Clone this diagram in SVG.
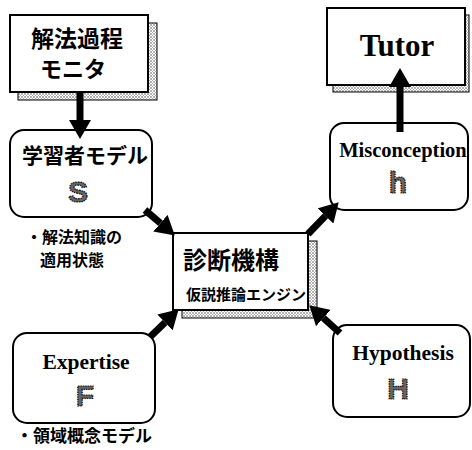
<svg xmlns="http://www.w3.org/2000/svg" width="472" height="450" viewBox="0 0 472 450">
<style>
.box{fill:#fff;stroke:#000;stroke-width:2}
.shadow{fill:url(#stip);stroke:#000;stroke-width:1}
.jp{font-family:"Noto Sans CJK JP","Noto Sans CJK SC",sans-serif;font-weight:bold;fill:#000}
.en{font-family:"Liberation Serif",serif;font-weight:bold;fill:#000;text-anchor:middle}
.sym{font-family:"Liberation Sans",sans-serif;font-weight:bold;fill:#666;stroke:#000;stroke-width:1.2;stroke-dasharray:1.4 1;text-anchor:middle}
.arrow{stroke:#000;stroke-width:7;fill:none;marker-end:url(#head)}
</style>
<defs>
<pattern id="stip" width="3" height="3" patternUnits="userSpaceOnUse">
<rect width="3" height="3" fill="#fff"/>
<circle cx="1" cy="1" r="0.8" fill="#555"/>
<circle cx="2.5" cy="2.5" r="0.5" fill="#888"/>
</pattern>
<marker id="head" markerUnits="userSpaceOnUse" markerWidth="20" markerHeight="22" refX="0" refY="11" orient="auto" viewBox="0 0 20 22">
<path d="M0,0 L19,11 L0,22 z" fill="#000"/>
</marker>
</defs>

<g id="monitor">
<rect class="shadow" x="18" y="23" width="139" height="77"/>
<rect class="box" x="10" y="15" width="138" height="77"/>
<text class="jp" x="77" y="47" font-size="23" text-anchor="middle">解法過程</text>
<text class="jp" x="73" y="77" font-size="22" text-anchor="middle">モニタ</text>
</g>

<g id="tutor">
<rect class="shadow" x="333" y="15" width="136" height="77"/>
<rect class="box" x="327" y="8" width="138" height="77"/>
<text class="en" x="397" y="56" font-size="31">Tutor</text>
</g>

<g id="student">
<rect class="box" x="10" y="130" width="142" height="87" rx="14"/>
<text class="jp" x="85" y="163" font-size="21" text-anchor="middle">学習者モデル</text>
<text class="sym" x="78" y="202" font-size="30">S</text>
<text class="jp" x="26" y="243" font-size="16">・解法知識の</text>
<text class="jp" x="40" y="266" font-size="16">適用状態</text>
</g>

<g id="diagnosis">
<rect class="shadow" x="182" y="241" width="135" height="77"/>
<rect class="box" x="173" y="233" width="135" height="77"/>
<text class="jp" x="231" y="269" font-size="24" text-anchor="middle">診断機構</text>
<text class="jp" x="246" y="300" font-size="15" text-anchor="middle">仮説推論エンジン</text>
</g>

<g id="misconception">
<rect class="box" x="330" y="123" width="138" height="87" rx="14"/>
<text class="en" x="403" y="157" font-size="20.5">Misconception</text>
<text class="sym" x="398" y="193" font-size="30">h</text>
</g>

<g id="expertise">
<rect class="box" x="13" y="333" width="142" height="90" rx="14"/>
<text class="en" x="86" y="369" font-size="21.5">Expertise</text>
<text class="sym" x="85" y="406" font-size="30">F</text>
<text class="jp" x="16" y="442" font-size="17">・領域概念モデル</text>
</g>

<g id="hypothesis">
<rect class="box" x="333" y="325" width="137" height="92" rx="14"/>
<text class="en" x="403" y="360" font-size="21.5">Hypothesis</text>
<text class="sym" x="398" y="399" font-size="30">H</text>
</g>

<g id="connectors">
<line class="arrow" x1="80" y1="92" x2="80" y2="120"/>
<line class="arrow" x1="400" y1="132" x2="400" y2="87"/>
<line class="arrow" x1="145" y1="210" x2="160.4" y2="223.2"/>
<line class="arrow" x1="308" y1="234" x2="325.5" y2="215.9"/>
<line class="arrow" x1="150" y1="337" x2="165" y2="322.5"/>
<line class="arrow" x1="340" y1="333" x2="323.4" y2="318"/>
</g>
</svg>
